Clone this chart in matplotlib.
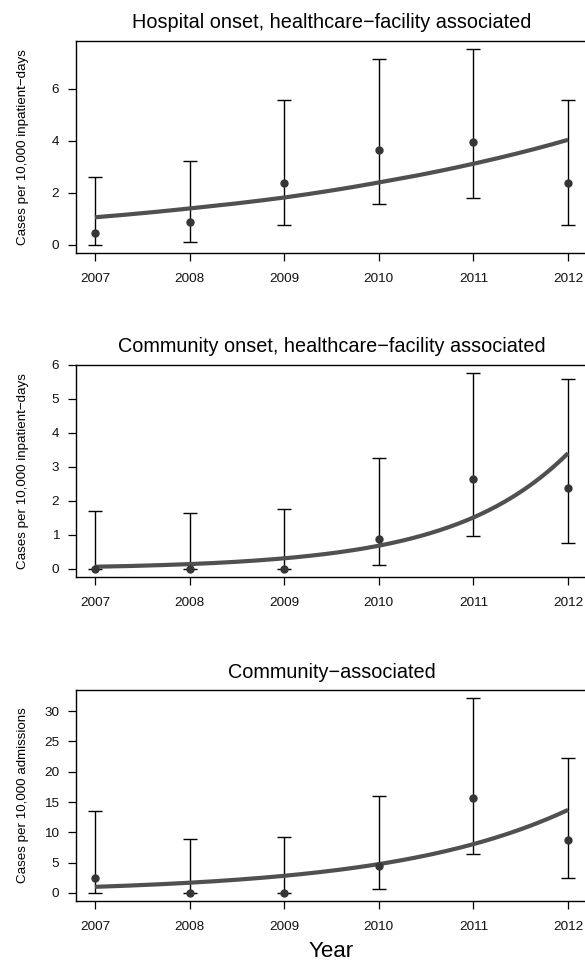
import numpy as np
import matplotlib
matplotlib.use("Agg")
import matplotlib.pyplot as plt

plt.rcParams['font.family'] = ['Liberation Sans', 'DejaVu Sans']

years = [2007, 2008, 2009, 2010, 2011, 2012]
year_labels = ["2007", "2008", "2009", "2010", "2011", "2012"]

# hospital onset, healthcare-facility associated (per 10,000 inpatient-days)
ho_rate = [0.46, 0.88, 2.38, 3.63, 3.96, 2.38]
ho_low = [0.01, 0.12, 0.77, 1.56, 1.82, 0.77]
ho_high = [2.60, 3.21, 5.58, 7.14, 7.55, 5.57]
ho_fit = [1.06, 1.40, 1.82, 2.40, 3.12, 4.04]
ho_yticks = [0, 2, 4, 6]

# community onset, healthcare-facility associated
co_rate = [0.0, 0.0, 0.0, 0.89, 2.65, 2.38]
co_low = [0.0, 0.0, 0.0, 0.10, 0.97, 0.77]
co_high = [1.71, 1.65, 1.76, 3.27, 5.77, 5.57]
co_fit = [0.062, 0.14, 0.31, 0.68, 1.51, 3.40]
co_yticks = [0, 1, 2, 3, 4, 5, 6]

# community-associated (per 10,000 admissions)
ca_rate = [2.41, 0.0, 0.0, 4.43, 15.65, 8.70]
ca_low = [0.06, 0.0, 0.0, 0.60, 6.35, 2.41]
ca_high = [13.46, 8.87, 9.20, 16.0, 32.2, 22.3]
ca_fit = [1.0, 1.68, 2.82, 4.75, 8.05, 13.7]
ca_yticks = [0, 5, 10, 15, 20, 25, 30]

panels = [
    ("Hospital onset, healthcare\u2212facility associated",
     "Cases per 10,000 inpatient\u2212days", ho_rate, ho_low, ho_high, ho_fit, ho_yticks),
    ("Community onset, healthcare\u2212facility associated",
     "Cases per 10,000 inpatient\u2212days", co_rate, co_low, co_high, co_fit, co_yticks),
    ("Community\u2212associated",
     "Cases per 10,000 admissions", ca_rate, ca_low, ca_high, ca_fit, ca_yticks),
]

W, H = 585, 964
fig = plt.figure(figsize=(W / 100, H / 100), dpi=100)

# axes boxes in pixels: (top, bottom); right edge runs past the image
boxes = [(40.7, 252.7), (364.7, 576.7), (690.0, 900.7)]
left_px, right_px = 76, 587

for (title, ylab, rate, low, high, fit, yticks), (top, bot) in zip(panels, boxes):
    ax = fig.add_axes([left_px / W, 1 - bot / H, (right_px - left_px) / W, (bot - top) / H])
    x = np.array(years, dtype=float)
    rate = np.array(rate)
    err = [rate - np.array(low), np.array(high) - rate]
    ax.errorbar(x, rate, yerr=err, fmt='none', ecolor='black', elinewidth=1.0,
                capsize=5, capthick=1.0, zorder=2)
    # smooth the fitted curve between the yearly values (log scale, it is exponential)
    xs = np.linspace(x[0], x[-1], 200)
    ys = np.exp(np.interp(xs, x, np.log(fit)))
    ax.plot(xs, ys, color='#505050', lw=3.0, solid_capstyle='butt', zorder=3)
    ax.plot(x, rate, 'o', color='#363636', ms=5, zorder=4)

    r = max(high)
    ax.set_xlim(2006.8, 2012.2)
    ax.set_ylim(-0.04 * r, r * 1.04)
    ax.set_xticks(years)
    ax.set_xticklabels(year_labels)
    ax.set_yticks(yticks)
    ax.tick_params(direction='out', length=6, width=0.9, labelsize=9.7,
                   colors='black', labelcolor='#111111')
    ax.tick_params(axis='x', pad=8.5)
    ax.tick_params(axis='y', pad=6)
    for s in ax.spines.values():
        s.set_linewidth(1.0)
        s.set_color('black')
    ax.set_title(title, fontsize=14.3, pad=9)
    ax.set_ylabel(ylab, fontsize=9.6)
    ax.yaxis.set_label_coords(-0.092, 0.5)

ax.set_xlabel("Year", fontsize=16)
ax.xaxis.set_label_coords(0.5, -0.24)
ax.xaxis.label.set_va('center')

fig.savefig("out.png", dpi=100)
